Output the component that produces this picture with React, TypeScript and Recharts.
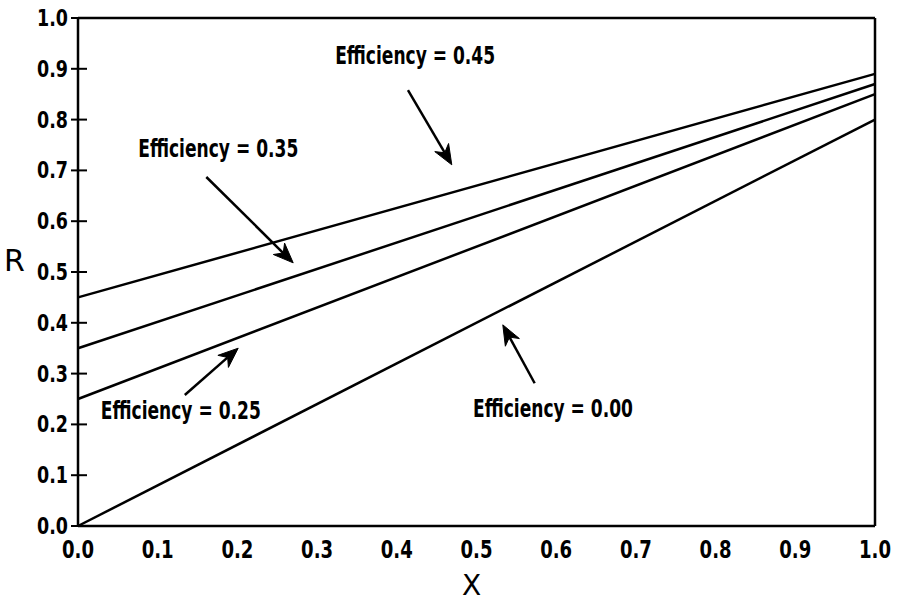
import React from "react";
import { LineChart, Line, XAxis, YAxis, ReferenceLine, ReferenceDot, Label } from "recharts";

const xValues = [0, 1];
const eff000 = [0, 0.8];
const eff025 = [0.25, 0.85];
const eff035 = [0.35, 0.87];
const eff045 = [0.45, 0.89];
const tickValues = [0, 0.1, 0.2, 0.3, 0.4, 0.5, 0.6, 0.7, 0.8, 0.9, 1.0];

// label centre and arrow (start -> tip), in data units
const noteText = ["Efficiency = 0.45", "Efficiency = 0.35", "Efficiency = 0.25", "Efficiency = 0.00"];
const noteX = [0.423, 0.176, 0.129, 0.596];
const noteY = [0.927, 0.744, 0.228, 0.232];
const arrowFrom = [
  [0.414, 0.858],
  [0.161, 0.687],
  [0.134, 0.258],
  [0.573, 0.281],
];
const arrowTo = [
  [0.469, 0.711],
  [0.27, 0.518],
  [0.201, 0.35],
  [0.533, 0.396],
];

const FONT = "'DejaVu Sans', sans-serif";
const INK = "#000";

const data = xValues.map((x, i) => ({ x, e0: eff000[i], e25: eff025[i], e35: eff035[i], e45: eff045[i] }));

const fmt = (v: number) => v.toFixed(1);

function YTick(p: any) {
  const { x, y, payload } = p;
  return (
    <g>
      <line x1={x - 7} x2={x + 9} y1={y} y2={y} stroke={INK} strokeWidth={2} />
      <text
        x={x - 10}
        y={y}
        dy={8}
        textAnchor="end"
        fontFamily={FONT}
        fontWeight="bold"
        fontSize={23}
        fill={INK}
        textLength={31}
        lengthAdjust="spacingAndGlyphs"
      >
        {fmt(payload.value)}
      </text>
    </g>
  );
}

function XTick(p: any) {
  const { x, y, payload } = p;
  return (
    <text
      x={x}
      y={y}
      dy={32}
      textAnchor="middle"
      fontFamily={FONT}
      fontWeight="bold"
      fontSize={24}
      fill={INK}
      textLength={32}
      lengthAdjust="spacingAndGlyphs"
    >
      {fmt(payload.value)}
    </text>
  );
}

function Arrow(p: any) {
  const { x1, y1, x2, y2 } = p;
  const dx = x2 - x1;
  const dy = y2 - y1;
  const len = Math.sqrt(dx * dx + dy * dy) || 1;
  const ux = dx / len;
  const uy = dy / len;
  const hl = 20;
  const hw = 8;
  const bx = x2 - ux * hl;
  const by = y2 - uy * hl;
  const nx = x2 - ux * hl * 0.7;
  const ny = y2 - uy * hl * 0.7;
  const head = `M${x2},${y2} L${bx - uy * hw},${by + ux * hw} L${nx},${ny} L${bx + uy * hw},${by - ux * hw} Z`;
  return (
    <g>
      <line x1={x1} y1={y1} x2={nx} y2={ny} stroke={INK} strokeWidth={2.5} />
      <path d={head} fill={INK} stroke={INK} strokeWidth={1} />
    </g>
  );
}

export default function App() {
  return (
    <div style={{ position: "absolute", left: 0, top: 0, background: "#fff" }}>
      <LineChart width={898} height={605} data={data} margin={{ top: 18, right: 23, bottom: 0, left: 18 }}>
        <XAxis
          dataKey="x"
          type="number"
          domain={[0, 1]}
          ticks={tickValues}
          interval={0}
          height={79}
          tickSize={0}
          tickMargin={0}
          tickLine={false}
          tick={<XTick />}
          axisLine={{ stroke: INK, strokeWidth: 2.5 }}
        >
          <Label value="X" position="insideBottom" offset={10} dx={-5} style={{ fontFamily: FONT, fontSize: 28, fill: INK }} />
        </XAxis>
        <YAxis
          type="number"
          domain={[0, 1]}
          ticks={tickValues}
          interval={0}
          width={60}
          tickSize={0}
          tickMargin={0}
          tickLine={false}
          tick={<YTick />}
          axisLine={{ stroke: INK, strokeWidth: 2.5 }}
        >
          <Label value="R" position="insideLeft" offset={-14} dy={-12} style={{ fontFamily: FONT, fontSize: 30, fill: INK }} />
        </YAxis>
        <ReferenceLine y={1} stroke={INK} strokeWidth={2.5} />
        <ReferenceLine x={1} stroke={INK} strokeWidth={2.5} />
        <Line dataKey="e0" stroke={INK} strokeWidth={2.5} dot={false} isAnimationActive={false} />
        <Line dataKey="e25" stroke={INK} strokeWidth={2.5} dot={false} isAnimationActive={false} />
        <Line dataKey="e35" stroke={INK} strokeWidth={2.5} dot={false} isAnimationActive={false} />
        <Line dataKey="e45" stroke={INK} strokeWidth={2.5} dot={false} isAnimationActive={false} />
        {arrowFrom.map((a, i) => (
          <ReferenceLine
            key={"a" + i}
            segment={[{ x: a[0], y: a[1] }, { x: arrowTo[i][0], y: arrowTo[i][1] }]}
            shape={Arrow}
            ifOverflow="visible"
          />
        ))}
        {noteText.map((t, i) => (
          <ReferenceDot
            key={"n" + i}
            x={noteX[i]}
            y={noteY[i]}
            r={0}
            ifOverflow="visible"
            shape={(p: any) => (
              <text
                x={p.cx}
                y={p.cy}
                dy={9}
                textAnchor="middle"
                fontFamily={FONT}
                fontWeight="bold"
                fontSize={24}
                fill={INK}
                textLength={160}
                lengthAdjust="spacingAndGlyphs"
              >
                {t}
              </text>
            )}
          />
        ))}
      </LineChart>
    </div>
  );
}
